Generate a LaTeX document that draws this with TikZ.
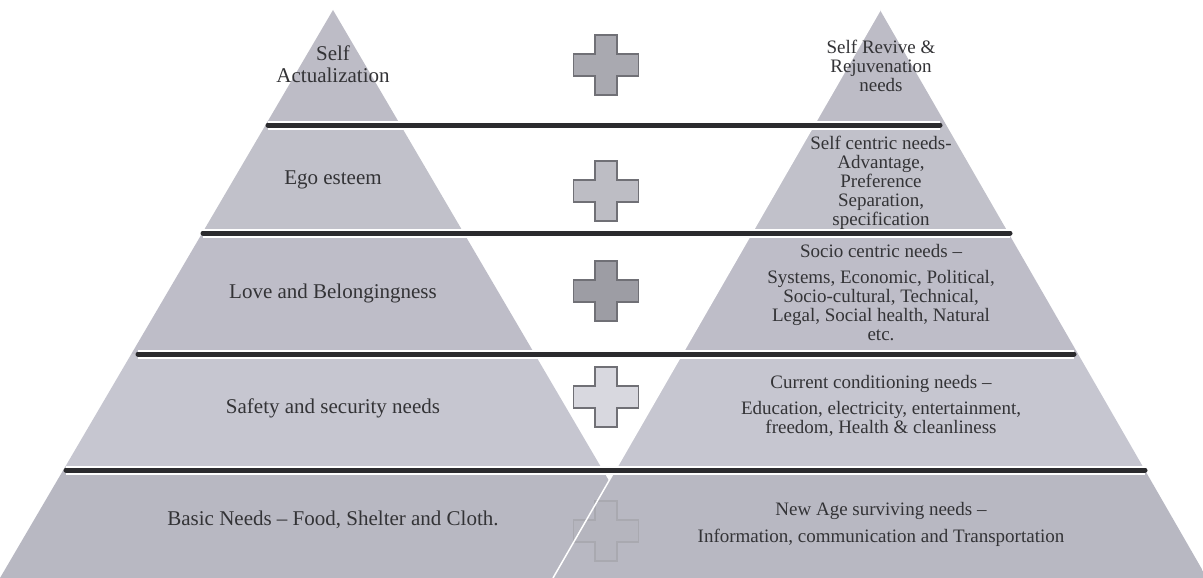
\documentclass[tikz,border=0pt]{standalone}
\usepackage{fontspec}
\setmainfont{Liberation Serif}
\definecolor{bandA}{HTML}{BDBCC6}
\definecolor{bandB}{HTML}{C1C1CA}
\definecolor{bandC}{HTML}{BEBDC8}
\definecolor{bandD}{HTML}{C6C6D0}
\definecolor{bandE}{HTML}{B8B8C2}
\definecolor{barline}{HTML}{2B2B2E}
\definecolor{textgray}{HTML}{333336}
\definecolor{plusA}{HTML}{A9A9B0}
\definecolor{plusB}{HTML}{BDBDC4}
\definecolor{plusC}{HTML}{9D9DA4}
\definecolor{plusD}{HTML}{D8D8DF}
\definecolor{plusE}{HTML}{B5B5BE}
\definecolor{plusedge}{HTML}{707076}
\begin{document}
\begin{tikzpicture}[x=1pt, y=-1pt,
  bar/.style={line width=5pt, color=barline, line cap=round},
  bargap/.style={line width=9pt, white},
  plusmark/.style={line width=1.2pt},
  lefttext/.style={font=\fontsize{21}{22}\selectfont, align=center, text=textgray, inner sep=0pt},
  righttext/.style={font=\fontsize{19}{19}\selectfont, align=center, text=textgray, inner sep=0pt}]
  \fill[white] (0,0) rectangle (1203,578);
  \useasboundingbox (0,0) rectangle (1203,578);
  % left pyramid
  \begin{scope}
    \clip (333,10) -- (0,578) -- (666,578) -- cycle;
    \fill[bandA] (0,0) rectangle (700,125);
    \fill[bandB] (0,125) rectangle (700,233);
    \fill[bandC] (0,233) rectangle (700,354);
    \fill[bandD] (0,354) rectangle (700,470);
    \fill[bandE] (0,470) rectangle (700,578);
  \end{scope}
  % right pyramid
  \begin{scope}
    \clip (880,10) -- (553,578) -- (1207,578) -- cycle;
    \fill[bandA] (540,0) rectangle (1210,125);
    \fill[bandB] (540,125) rectangle (1210,233);
    \fill[bandC] (540,233) rectangle (1210,354);
    \fill[bandD] (540,354) rectangle (1210,470);
    \fill[bandE] (540,470) rectangle (1210,578);
  \end{scope}
  % plus signs
  \foreach \cy/\col/\edge in {65/plusA/plusedge, 191/plusB/plusedge, 291/plusC/plusedge,
                              397/plusD/plusedge, 531/plusE/plusA}
    \draw[plusmark, draw=\edge, fill=\col] (595,\cy-30) -- ++(22,0) -- ++(0,19) -- ++(21.5,0)
      -- ++(0,22) -- ++(-21.5,0) -- ++(0,19) -- ++(-22,0) -- ++(0,-19) -- ++(-21.5,0)
      -- ++(0,-22) -- ++(21.5,0) -- cycle;
  \draw[white, line width=1.5pt] (880,10) -- (553,578);
  % dividing bars
  \foreach \ya/\xa/\xb in {125/268/940, 233/203/1010, 354/138/1074, 470/66/1145} {
    \draw[bargap] (\xa,\ya) -- (\xb,\ya);
    \draw[bar] (\xa,\ya) -- (\xb,\ya);
  }
  % left labels
  \node[lefttext] (selfact) at (333,64) {Self\\Actualization};
  \node[lefttext] (egoest) at (333,180) {Ego esteem};
  \node[lefttext] (lovebel) at (333,293) {Love and Belongingness};
  \node[lefttext] (safesec) at (333,408) {Safety and security needs};
  \node[lefttext] (basicnd) at (333,520) {Basic Needs -- Food, Shelter and Cloth.};
  % right labels
  \node[righttext] (selfrev) at (881,66) {Self Revive \&\\Rejuvenation\\needs};
  \node[righttext] (selfcen) at (881,183) {Self centric needs-\\Advantage,\\Preference\\Separation,\\specification};
  \node[righttext] (sociocen) at (881,293) {Socio centric needs --\\[7pt]Systems, Economic, Political,\\Socio-cultural, Technical,\\Legal, Social health, Natural\\etc.};
  \node[righttext] (currcond) at (881,406) {Current conditioning needs --\\[7pt]Education, electricity, entertainment,\\freedom, Health \& cleanliness};
  \node[righttext] (newage) at (881,524) {New Age surviving needs --\\[8pt]Information, communication and Transportation};
\end{tikzpicture}
\end{document}
